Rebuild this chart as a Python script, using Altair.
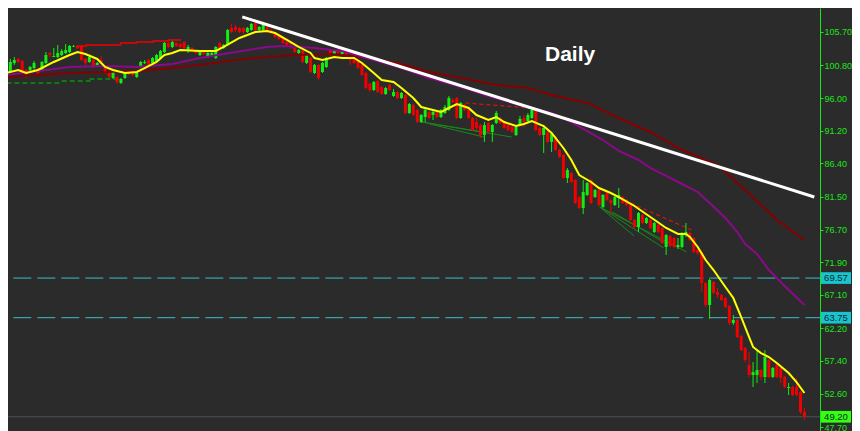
import altair as alt
import pandas as pd

# ---------------- candle data (daily OHLC) ----------------
opens = [99.39, 99.83, 101.15, 101.74, 101.44, 100.12, 100.12, 100.41, 100.27, 100.12,
         101.15, 102.62, 102.03, 102.03, 102.32, 102.62, 102.76, 103.55, 103.65, 103.65,
         101.74, 101.30, 101.59, 100.86, 101.59, 100.56, 99.68, 98.95, 99.09, 98.21,
         98.95, 99.68, 99.68, 99.09, 100.56, 101.15, 101.59, 101.15, 101.44, 101.88,
         102.76, 104.09, 103.50, 104.09, 103.94, 104.23, 103.06, 103.35, 102.91, 102.32,
         102.76, 102.03, 102.18, 101.88, 104.09, 103.35, 103.79, 106.29, 106.44, 106.29,
         106.29, 105.70, 106.00, 107.02, 106.00, 106.00, 106.44, 106.00, 105.55, 105.26,
         104.97, 104.23, 104.23, 103.35, 102.62, 102.91, 101.15, 101.88, 99.68, 100.86,
         99.83, 100.56, 103.06, 102.47, 103.06, 102.47, 102.76, 101.88, 101.88, 101.59,
         100.86, 99.68, 98.07, 97.18, 98.51, 97.62, 96.60, 97.92, 96.30, 96.89,
         96.01, 96.45, 93.81, 94.98, 94.25, 92.48, 93.22, 93.95, 93.51, 93.95,
         93.22, 93.81, 94.25, 95.72, 96.01, 93.07, 94.98, 94.25, 93.07, 92.48,
         92.04, 90.58, 92.34, 91.02, 92.34, 93.07, 92.48, 92.04, 91.75, 90.58,
         92.04, 93.07, 92.63, 93.07, 94.25, 91.60, 90.58, 91.02, 89.55, 90.28,
         88.37, 87.64, 84.26, 85.00, 83.97, 81.47, 79.86, 81.77, 83.97, 81.47,
         82.50, 80.00, 82.06, 81.03, 80.30, 81.33, 81.47, 81.03, 80.30, 78.09,
         77.07, 78.83, 77.65, 78.09, 76.33, 77.36, 76.92, 74.13, 75.75, 75.45,
         74.13, 74.13, 75.89, 76.19, 75.45, 73.69, 73.40, 68.84, 65.61, 68.99,
         67.52, 67.08, 66.64, 65.47, 62.97, 63.41, 61.06, 59.30, 56.80, 55.33,
         55.33, 56.07, 55.04, 57.54, 55.04, 56.80, 56.36, 55.04, 53.42, 53.57,
         53.57, 52.84, 49.90]
highs = [100.71, 101.74, 102.03, 101.88, 101.59, 100.27, 100.71, 101.44, 100.41, 101.44,
         102.76, 102.76, 103.35, 103.79, 103.21, 103.94, 103.79, 103.79, 103.79, 103.79,
         101.88, 102.18, 101.74, 101.30, 102.18, 100.71, 99.83, 99.97, 99.24, 98.95,
         99.83, 99.83, 99.83, 99.83, 101.44, 101.59, 101.74, 102.03, 102.47, 103.06,
         104.23, 104.23, 104.38, 104.23, 104.09, 104.38, 103.79, 103.50, 103.06, 102.91,
         102.91, 102.76, 102.76, 103.65, 104.23, 103.94, 106.14, 106.88, 106.73, 106.44,
         106.44, 106.44, 107.02, 107.46, 106.58, 106.88, 106.58, 106.14, 105.70, 105.41,
         105.11, 104.38, 104.38, 103.50, 103.21, 103.06, 102.47, 102.03, 101.00, 101.00,
         101.30, 102.03, 103.21, 103.06, 103.21, 103.06, 102.91, 102.03, 102.03, 101.74,
         101.00, 99.83, 98.21, 98.51, 98.65, 97.77, 97.62, 98.07, 97.33, 97.04,
         96.89, 96.60, 95.28, 95.13, 94.39, 93.66, 94.54, 94.10, 94.25, 94.10,
         94.39, 94.98, 96.30, 96.01, 96.16, 95.42, 95.13, 94.39, 93.22, 93.07,
         92.19, 92.48, 92.48, 92.19, 94.10, 93.22, 92.63, 92.19, 91.90, 91.90,
         93.37, 93.51, 93.81, 94.39, 94.54, 91.75, 91.75, 91.16, 90.87, 90.43,
         88.52, 87.78, 85.73, 85.14, 84.12, 81.62, 83.97, 83.68, 84.12, 82.65,
         82.65, 81.91, 82.21, 81.18, 81.62, 82.79, 81.62, 81.18, 80.44, 78.24,
         79.27, 78.97, 78.53, 78.24, 77.80, 77.51, 77.07, 76.04, 75.89, 75.60,
         75.45, 76.33, 77.65, 76.33, 75.60, 73.84, 73.54, 68.99, 69.43, 69.14,
         68.11, 67.23, 66.79, 65.61, 64.14, 63.56, 61.21, 59.45, 58.71, 57.24,
         58.99, 56.22, 58.99, 57.69, 56.51, 56.95, 56.51, 55.19, 54.16, 53.72,
         54.89, 52.98, 50.49]
lows = [99.09, 99.68, 100.86, 101.15, 99.53, 98.95, 99.97, 100.12, 99.39, 99.97,
        101.00, 102.03, 102.03, 101.88, 102.18, 102.47, 102.62, 103.50, 103.21, 101.44,
        100.86, 101.15, 100.41, 100.71, 101.15, 99.53, 98.95, 98.80, 98.07, 98.07,
        98.80, 99.39, 99.24, 98.95, 100.41, 101.00, 100.71, 101.00, 101.30, 101.74,
        102.62, 103.35, 103.35, 103.50, 103.35, 103.21, 102.62, 102.91, 102.47, 102.18,
        102.32, 101.88, 102.03, 101.74, 103.21, 103.21, 103.65, 105.55, 105.70, 105.55,
        105.41, 105.55, 105.85, 105.85, 105.85, 105.85, 105.55, 105.41, 104.82, 104.53,
        103.94, 103.50, 103.21, 102.62, 102.47, 101.15, 101.00, 99.68, 99.53, 98.65,
        99.68, 100.41, 102.18, 102.32, 102.47, 102.32, 102.18, 100.86, 101.00, 100.27,
        99.24, 97.33, 96.89, 97.04, 96.74, 96.45, 96.45, 97.04, 96.16, 95.86,
        95.86, 93.66, 93.66, 93.37, 92.34, 92.34, 92.48, 92.93, 92.78, 93.07,
        93.07, 93.66, 94.10, 95.28, 92.93, 92.93, 94.10, 92.93, 91.16, 91.31,
        90.14, 89.55, 90.87, 89.55, 92.19, 92.19, 91.46, 91.16, 90.87, 90.43,
        91.90, 91.75, 92.48, 92.93, 91.16, 90.43, 87.93, 89.40, 88.08, 88.23,
        87.20, 84.12, 83.53, 83.53, 80.44, 79.71, 78.97, 81.62, 80.44, 81.33,
        80.15, 79.86, 80.88, 79.12, 80.15, 79.86, 80.44, 80.15, 77.95, 76.92,
        76.33, 77.51, 77.51, 76.77, 76.19, 76.19, 74.57, 72.96, 74.13, 73.98,
        73.84, 73.98, 75.60, 75.01, 73.25, 72.96, 67.52, 65.32, 63.56, 67.23,
        66.64, 66.20, 65.17, 62.68, 62.68, 60.76, 58.85, 57.24, 55.04, 53.57,
        54.16, 54.60, 54.16, 54.89, 54.89, 54.89, 54.16, 53.42, 52.40, 52.25,
        52.25, 49.61, 48.73]
closes = [100.41, 101.30, 101.59, 101.30, 99.68, 99.68, 100.56, 101.15, 99.68, 101.30,
          102.32, 102.32, 102.18, 102.62, 102.91, 103.06, 103.65, 103.65, 103.35, 101.59,
          101.15, 102.03, 100.56, 101.15, 101.30, 99.68, 99.09, 99.83, 98.36, 98.80,
          99.68, 99.53, 99.39, 99.68, 101.30, 101.30, 100.86, 101.88, 102.32, 102.91,
          104.09, 103.50, 104.23, 103.65, 103.50, 103.35, 103.50, 103.06, 102.62, 102.76,
          102.47, 102.62, 102.62, 103.50, 103.35, 103.79, 106.00, 105.70, 106.00, 105.70,
          105.70, 106.29, 106.88, 106.00, 106.44, 106.73, 105.70, 105.55, 104.97, 104.67,
          104.09, 103.79, 103.94, 102.76, 103.06, 101.30, 102.32, 99.83, 100.86, 98.95,
          101.15, 101.88, 102.32, 102.91, 102.62, 102.91, 102.32, 101.59, 101.15, 100.41,
          99.39, 97.48, 97.18, 98.36, 96.89, 96.60, 97.48, 97.18, 96.89, 96.01,
          96.74, 93.81, 95.13, 93.51, 92.48, 93.51, 94.25, 93.07, 93.95, 93.22,
          94.25, 94.69, 96.01, 95.42, 93.07, 95.28, 94.25, 93.07, 91.31, 91.60,
          90.58, 92.04, 91.02, 92.04, 93.81, 92.34, 91.60, 91.31, 91.02, 91.75,
          92.93, 92.48, 93.51, 94.25, 91.31, 90.58, 91.60, 89.55, 90.72, 88.37,
          87.35, 84.26, 85.44, 83.68, 80.59, 79.86, 82.21, 83.53, 80.59, 82.50,
          80.30, 81.77, 81.03, 80.59, 81.47, 81.77, 80.59, 80.30, 78.09, 77.07,
          79.12, 77.65, 78.39, 76.92, 77.65, 76.33, 74.72, 75.89, 74.28, 74.13,
          74.42, 76.19, 76.33, 75.16, 73.40, 73.25, 68.84, 65.61, 69.29, 67.38,
          67.08, 66.35, 65.32, 62.97, 63.41, 60.91, 58.99, 57.54, 55.33, 55.77,
          56.07, 55.04, 57.97, 55.04, 56.36, 55.04, 54.89, 53.57, 53.57, 52.40,
          52.40, 49.90, 49.20]
bar_index = list(range(len(closes)))

# ---------------- moving averages ----------------
fast_ma_idx = [0, 3, 5, 8, 12, 16, 18, 20, 23, 25, 27, 30, 33, 35, 38, 40, 42, 44, 49, 53,
               55, 59, 63, 66, 68, 71, 74, 77, 78, 80, 83, 85, 88, 90, 93, 95, 98, 100, 103, 105,
               108, 110, 112, 114, 117, 119, 122, 124, 126, 129, 131, 133, 136, 138, 141, 143, 145, 148, 150, 153,
               155, 159, 163, 167, 170, 172, 173, 175, 177, 179, 182, 184, 186, 188, 189, 191, 193, 195, 198, 200,
               202]
fast_ma_val = [99.68, 100.12, 99.68, 100.12, 101.30, 102.32, 102.76, 102.47, 101.74, 100.56,
               100.12, 99.68, 99.83, 100.41, 101.30, 102.32, 102.62, 103.06, 102.91, 102.91,
               103.50, 104.82, 105.70, 105.85, 105.55, 104.53, 103.50, 102.62, 101.88, 101.59,
               102.03, 101.88, 101.88, 101.15, 99.68, 98.65, 98.36, 97.48, 96.01, 94.69,
               94.25, 93.95, 94.54, 95.13, 94.54, 93.51, 92.78, 93.22, 92.48, 91.90,
               92.19, 92.63, 91.90, 90.87, 88.67, 86.91, 84.70, 83.68, 82.79, 82.06,
               81.47, 80.15, 78.53, 76.92, 76.04, 76.04, 75.60, 74.13, 72.22, 70.75,
               68.26, 66.64, 63.85, 60.91, 59.45, 58.56, 57.97, 57.10, 55.63, 54.30,
               52.69]
mid_ma_idx = [0, 8, 16, 25, 33, 42, 49, 58, 66, 70, 74, 78, 85, 92, 100, 107, 115, 122, 130, 138,
              143, 147, 151, 155, 160, 163, 167, 171, 175, 178, 182, 185, 187, 190, 193, 197, 202]
mid_ma_val = [99.39, 99.97, 100.56, 100.71, 100.56, 101.00, 101.88, 102.76, 103.50, 103.65,
              103.50, 103.35, 102.91, 101.74, 100.41, 98.95, 97.62, 96.30, 94.98, 93.81,
              92.48, 91.16, 89.84, 88.23, 86.91, 85.73, 84.56, 83.38, 82.21, 80.59,
              78.39, 76.33, 74.57, 73.10, 70.75, 68.40, 65.61]
slow_ma_idx = [0, 8, 16, 25, 33, 42, 49, 58, 66, 74, 82, 90, 99, 107, 115, 124, 132, 138, 147, 155,
               163, 170, 180, 187, 195, 202]
slow_ma_val = [99.09, 99.39, 99.68, 99.83, 99.97, 100.41, 100.86, 101.59, 102.03, 102.32,
               102.47, 102.03, 101.15, 99.83, 98.95, 97.92, 97.48, 96.45, 95.28, 93.07,
               91.02, 88.67, 86.17, 82.50, 78.09, 75.16]

# ---------------- drawn lines ----------------
trend_idx = [59.7, 204.5]
trend_val = [107.92, 81.47]

step_idx = [17.7, 20.2, 24.7, 28.9, 32.9, 37.2, 41.0, 44.2]
step_val = [103.65, 103.79, 103.79, 104.09, 104.23, 104.38, 104.53, 104.53]

support_seg = ["a", "a", "b", "b", "c", "c"]
support_idx = [0, 14, 14, 21.5, 21, 29]
support_val = [98.21, 98.21, 98.51, 98.51, 98.80, 98.80]

fan_seg = [1, 1, 2, 2, 3, 3, 4, 4, 5, 5, 6, 6, 7, 7]
fan_idx = [105.2, 120.4, 105.2, 127.9, 107.2, 120.9, 150.2, 158.9, 150.2, 166.4, 150.2, 172.2, 153.4, 166.7]
fan_val = [92.48, 91.02, 92.48, 90.28, 92.19, 90.28, 80.00, 75.75, 80.00, 73.98, 80.00, 73.40, 79.27, 74.72]

res_seg = [1, 1, 2, 2]
res_idx = [116.2, 132.7, 158.0, 173.4]
res_val = [95.28, 94.54, 80.59, 76.63]

level_vals = [69.57, 63.75]
level_labels = ["69.57", "63.75"]
last_vals = [49.20]
last_labels = ["49.20"]

tick_vals = [105.70, 100.80, 96.00, 91.20, 86.40, 81.50, 76.70, 71.90, 67.10, 62.20, 57.40, 52.60, 47.70]
title_text = ["Daily"]

# ---------------- styling ----------------
BG = "#2b2b2b"
UP = "#12ee12"
DOWN = "#f00000"
AXIS_GREEN = "#18e818"

cdf = pd.DataFrame({"i": bar_index, "open": opens, "high": highs, "low": lows, "close": closes})
cdf["lo"] = cdf[["open", "close"]].min(axis=1)
cdf["hi"] = cdf[["open", "close"]].max(axis=1)

X_SCALE = alt.Scale(domain=[1.675, 204.675], nice=False, zero=False)
Y_SCALE = alt.Scale(domain=[47.113, 109.224], nice=False, zero=False)
Y_AXIS = alt.Axis(orient="right", values=tick_vals, format=".2f", labelColor=AXIS_GREEN,
                  labelFont="Liberation Sans", labelFontSize=9, domainColor=AXIS_GREEN,
                  domainWidth=1, tickColor=AXIS_GREEN, tickSize=3, tickWidth=1, labelPadding=1,
                  grid=False, title=None, labelOverlap=False, labelFlush=False)


def X(f):
    return alt.X(f, type="quantitative", scale=X_SCALE, axis=None, title=None)


def Y(f):
    return alt.Y(f, type="quantitative", scale=Y_SCALE, axis=Y_AXIS, title=None)


candle_color = alt.condition("datum.close >= datum.open", alt.value(UP), alt.value(DOWN))

levels_df = pd.DataFrame({"v": level_vals, "t": level_labels})
last_df = pd.DataFrame({"v": last_vals, "t": last_labels})

level_lines = alt.Chart(levels_df).mark_rule(color="#3cbfcc", strokeWidth=1, strokeDash=[18, 6],
                                             strokeDashOffset=3.3).encode(y=Y("v"))
last_line = alt.Chart(last_df).mark_rule(color="#4d525c", strokeWidth=1).encode(y=Y("v"))

support = alt.Chart(pd.DataFrame({"s": support_seg, "i": support_idx, "v": support_val})).mark_line(
    color="#0f7a0f", strokeWidth=2, strokeDash=[5, 3]).encode(x=X("i"), y=Y("v"), detail="s:N")
fans = alt.Chart(pd.DataFrame({"s": fan_seg, "i": fan_idx, "v": fan_val})).mark_line(
    color="#1a861a", strokeWidth=1).encode(x=X("i"), y=Y("v"), detail="s:N")
res = alt.Chart(pd.DataFrame({"s": res_seg, "i": res_idx, "v": res_val})).mark_line(
    color="#e01010", strokeWidth=1.2, strokeDash=[4, 3]).encode(x=X("i"), y=Y("v"), detail="s:N")
step = alt.Chart(pd.DataFrame({"i": step_idx, "v": step_val})).mark_line(
    color="#ee0000", strokeWidth=1.5, interpolate="step-after").encode(x=X("i"), y=Y("v"))

wicks = alt.Chart(cdf).mark_rule(strokeWidth=1).encode(x=X("i"), y=Y("low"), y2=alt.Y2("high"),
                                                       color=candle_color)
bodies = alt.Chart(cdf).mark_bar(size=3, strokeWidth=0).encode(x=X("i"), y=Y("lo"), y2=alt.Y2("hi"),
                                                               color=candle_color)

slow = alt.Chart(pd.DataFrame({"i": slow_ma_idx, "v": slow_ma_val})).mark_line(
    color="#860000", strokeWidth=2).encode(x=X("i"), y=Y("v"))
mid = alt.Chart(pd.DataFrame({"i": mid_ma_idx, "v": mid_ma_val})).mark_line(
    color="#8a0a8a", strokeWidth=2).encode(x=X("i"), y=Y("v"))
fast = alt.Chart(pd.DataFrame({"i": fast_ma_idx, "v": fast_ma_val})).mark_line(
    color="#ffff00", strokeWidth=2).encode(x=X("i"), y=Y("v"))
trend = alt.Chart(pd.DataFrame({"i": trend_idx, "v": trend_val})).mark_line(
    color="#ffffff", strokeWidth=3).encode(x=X("i"), y=Y("v"))

BOX = "M-1,-0.39L1,-0.39L1,0.39L-1,0.39Z"
level_boxes = alt.Chart(levels_df).mark_point(shape=BOX, size=900, filled=True, opacity=1,
                                              strokeWidth=0, color="#17c4cf").encode(
    x=alt.value(828), y=Y("v"))
last_box = alt.Chart(last_df).mark_point(shape=BOX, size=900, filled=True, opacity=1,
                                         strokeWidth=0, color="#33ff11").encode(
    x=alt.value(828), y=Y("v"))
box_text = alt.Chart(pd.concat([levels_df, last_df])).mark_text(
    align="center", baseline="middle", font="Liberation Sans", fontSize=9.5, color="#102828").encode(
    x=alt.value(828), y=Y("v"), text="t:N")

title = alt.Chart(pd.DataFrame({"t": title_text})).mark_text(
    align="left", baseline="alphabetic", font="Liberation Sans", fontSize=21, fontWeight="bold",
    color="#ffffff").encode(x=alt.value(537), y=alt.value(53), text="t:N")

chart = alt.layer(
    level_lines, last_line, support, fans, res, step, wicks, bodies,
    slow, mid, fast, trend, level_boxes, last_box, box_text, title
).properties(
    width=812, height=423,
    autosize=alt.AutoSizeParams(type="none"),
    padding={"left": 0, "top": 0, "right": 32, "bottom": 0},
).configure(background=BG).configure_view(stroke=None)

chart.save("out.html", embed_options={"renderer": "svg", "actions": False})
